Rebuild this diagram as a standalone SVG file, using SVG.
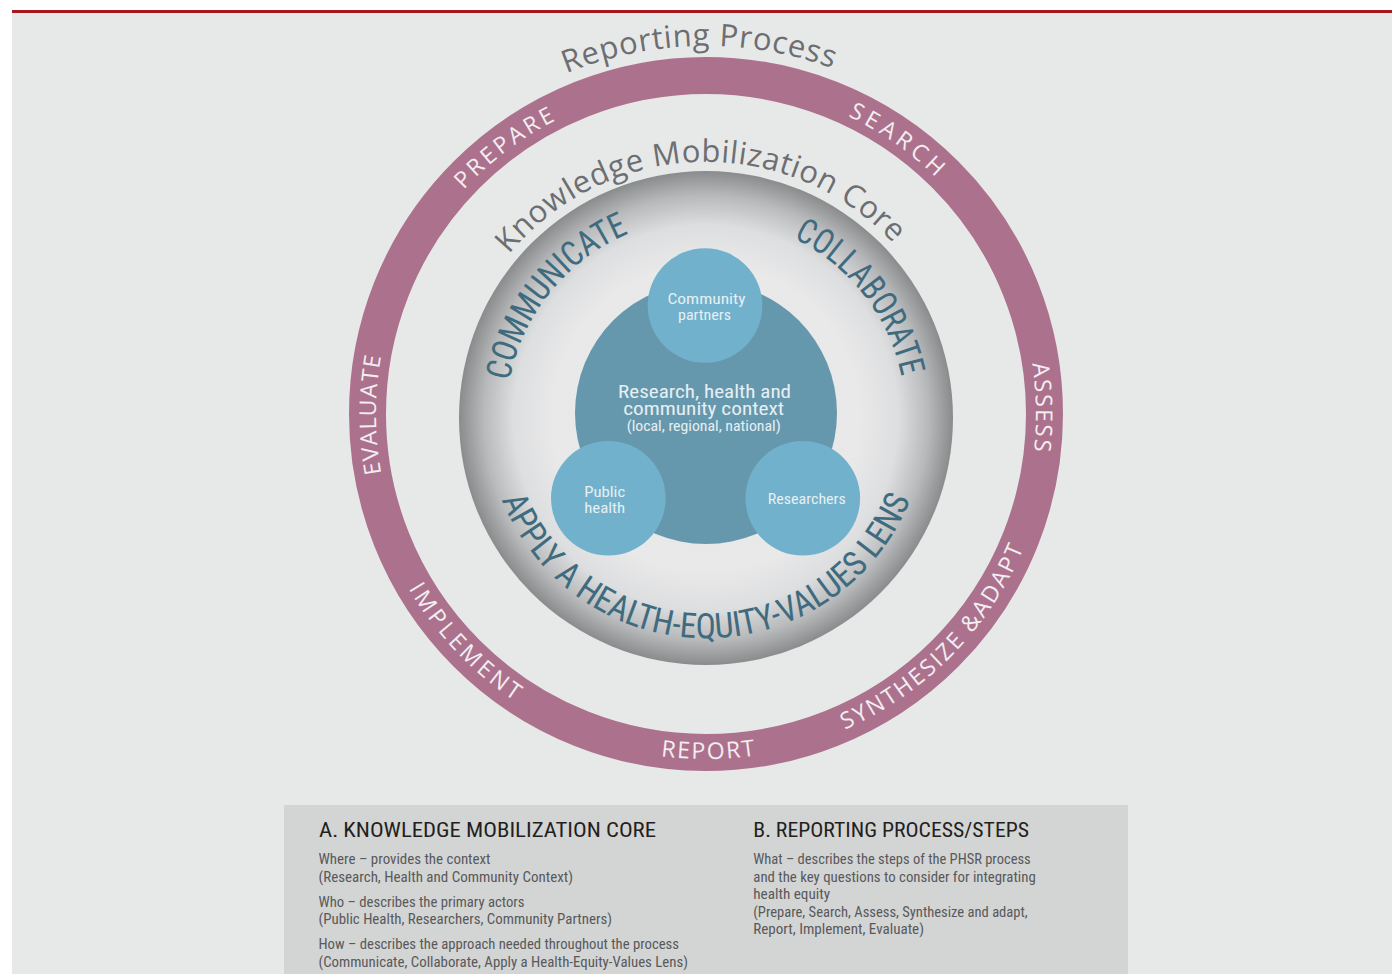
<svg xmlns="http://www.w3.org/2000/svg" width="1392" height="974" viewBox="0 0 1392 974">
  <style>
    .title { font-family: "Open Sans", "Noto Sans", sans-serif; font-size: 31px; fill: #6d6e71; }
    .step { font-family: "Open Sans", "Noto Sans", sans-serif; font-size: 23px; fill: #f3eef1; }
    .how { font-family: "Liberation Sans Narrow", "Roboto Condensed", "DejaVu Sans Condensed", "Liberation Sans", sans-serif; font-size: 35px; fill: #3f6b7e; }
    .inner { font-family: "Liberation Sans Narrow", "Roboto Condensed", "DejaVu Sans Condensed", "Liberation Sans", sans-serif; fill: #e6eff3; text-anchor: middle; }
    .head { font-family: "Liberation Sans Narrow", "Roboto Condensed", "DejaVu Sans Condensed", "Liberation Sans", sans-serif; font-size: 21px; fill: #231f20; }
    .body { font-family: "Liberation Sans Narrow", "Roboto Condensed", "DejaVu Sans Condensed", "Liberation Sans", sans-serif; font-size: 14px; fill: #58595b; }
  </style>
  <defs>
    <radialGradient id="coreShade" cx="706" cy="418" r="247" gradientUnits="userSpaceOnUse">
      <stop offset="0" stop-color="#e6e6e7"/>
      <stop offset="0.62" stop-color="#e9e9ea"/>
      <stop offset="0.78" stop-color="#dddedf"/>
      <stop offset="0.9" stop-color="#b8b9bb"/>
      <stop offset="1" stop-color="#898b8d"/>
    </radialGradient>
    <!-- outer ring, centre (706,414) -->
    <path id="pReporting" d="M338,414 A368,368 0 0 1 1073.78,401.16"/>
    <path id="pPrepare" d="M439.02,607.97 A330,330 0 0 1 966.04,210.83"/>
    <path id="pSearch" d="M439.02,220.03 A330,330 0 0 1 979.58,598.53"/>
    <path id="pAssess" d="M706,84 A330,330 0 0 1 717.52,743.8"/>
    <path id="pEvaluate" d="M700.24,743.95 A330,330 0 0 1 700.24,84.05"/>
    <path id="pSynth" d="M468.52,664.25 A345,345 0 0 0 952.07,172.19"/>
    <path id="pReport" d="M361.12,423.03 A345,345 0 0 0 1050.99,417.01"/>
    <path id="pImplement" d="M464.19,167.93 A345,345 0 0 0 939.08,668.36"/>
    <!-- core disk, centre (706,418) -->
    <path id="pKmc" d="M450.01,420.23 A256,256 0 0 1 961.76,406.83"/>
    <path id="pCommunicate" d="M577.44,571.21 A200,200 0 0 1 829.13,260.4"/>
    <path id="pCollaborate" d="M585.64,258.27 A200,200 0 0 1 831.86,573.43"/>
    <path id="pApply" d="M486.03,421.84 A220,220 0 0 0 925.97,421.84"/>
  </defs>

  <!-- page -->
  <rect x="0" y="0" width="1392" height="974" fill="#ffffff"/>
  <rect x="12" y="13" width="1380" height="961" fill="#e7e9e8"/>
  <rect x="12" y="10" width="1380" height="3" fill="#a3191f"/>

  <!-- reporting process ring -->
  <g id="reporting-ring">
    <circle cx="706" cy="414" r="338.5" fill="none" stroke="#ac728d" stroke-width="37"/>
    <text class="title" letter-spacing="1.5"><textPath href="#pReporting" startOffset="50%" text-anchor="middle" textLength="274">Reporting Process</textPath></text>
    <text class="step" letter-spacing="2"><textPath href="#pPrepare" startOffset="50%" text-anchor="middle" textLength="118">PREPARE</textPath></text>
    <text class="step" letter-spacing="2"><textPath href="#pSearch" startOffset="50%" text-anchor="middle" textLength="110">SEARCH</textPath></text>
    <text class="step" letter-spacing="2"><textPath href="#pAssess" startOffset="50%" text-anchor="middle" textLength="90">ASSESS</textPath></text>
    <text class="step" letter-spacing="1"><textPath href="#pSynth" startOffset="50%" text-anchor="middle" textLength="262">SYNTHESIZE &amp;ADAPT</textPath></text>
    <text class="step" letter-spacing="2"><textPath href="#pReport" startOffset="50%" text-anchor="middle" textLength="97">REPORT</textPath></text>
    <text class="step" letter-spacing="2"><textPath href="#pImplement" startOffset="50%" text-anchor="middle" textLength="158">IMPLEMENT</textPath></text>
    <text class="step" letter-spacing="2"><textPath href="#pEvaluate" startOffset="50%" text-anchor="middle" textLength="120">EVALUATE</textPath></text>
  </g>

  <!-- knowledge mobilization core -->
  <g id="core">
    <circle cx="706" cy="418" r="247" fill="url(#coreShade)"/>
    <text class="title" letter-spacing="1.5"><textPath href="#pKmc" startOffset="50%" text-anchor="middle" textLength="436">Knowledge Mobilization Core</textPath></text>
    <text class="how"><textPath href="#pCommunicate" startOffset="50%" text-anchor="middle" textLength="198" lengthAdjust="spacingAndGlyphs">COMMUNICATE</textPath></text>
    <text class="how"><textPath href="#pCollaborate" startOffset="50%" text-anchor="middle" textLength="182" lengthAdjust="spacingAndGlyphs">COLLABORATE</textPath></text>
    <text class="how"><textPath href="#pApply" startOffset="50%" text-anchor="middle" textLength="524" lengthAdjust="spacingAndGlyphs">APPLY A HEALTH-EQUITY-VALUES LENS</textPath></text>
  </g>

  <g id="context">
    <circle cx="706" cy="413" r="131" fill="#6698ad"/>
    <text class="inner" x="704.6" y="398" font-size="18.5" textLength="173" lengthAdjust="spacingAndGlyphs">Research, health and</text>
    <text class="inner" x="703.7" y="415" font-size="18.5" textLength="161" lengthAdjust="spacingAndGlyphs">community context</text>
    <text class="inner" x="703.7" y="431" font-size="14" textLength="154" lengthAdjust="spacingAndGlyphs">(local, regional, national)</text>
  </g>

  <g id="community-partners">
    <circle cx="705" cy="305.5" r="57.3" fill="#72b1cb"/>
    <text class="inner" x="706.5" y="304" font-size="15.5" textLength="78" lengthAdjust="spacingAndGlyphs">Community</text>
    <text class="inner" x="704.5" y="320" font-size="15.5" textLength="53" lengthAdjust="spacingAndGlyphs">partners</text>
  </g>

  <g id="public-health">
    <circle cx="608.3" cy="498.3" r="57.3" fill="#72b1cb"/>
    <text class="inner" x="604.7" y="496.7" font-size="15.5" textLength="41" lengthAdjust="spacingAndGlyphs">Public</text>
    <text class="inner" x="604.7" y="513.3" font-size="15.5" textLength="41" lengthAdjust="spacingAndGlyphs">health</text>
  </g>

  <g id="researchers">
    <circle cx="802.8" cy="498.3" r="57.3" fill="#72b1cb"/>
    <text class="inner" x="806.8" y="504" font-size="15.5" textLength="78" lengthAdjust="spacingAndGlyphs">Researchers</text>
  </g>

  <!-- key -->
  <g id="legend">
    <rect x="284" y="805" width="844" height="169" fill="#d3d4d4"/>
    <text class="head" x="319" y="836.7" textLength="337" lengthAdjust="spacingAndGlyphs">A. KNOWLEDGE MOBILIZATION CORE</text>
    <text class="body" x="318.5" y="864" textLength="172" lengthAdjust="spacingAndGlyphs">Where – provides the context</text>
    <text class="body" x="318.5" y="881.5" textLength="254.5" lengthAdjust="spacingAndGlyphs">(Research, Health and Community Context)</text>
    <text class="body" x="318.5" y="906.5" textLength="206" lengthAdjust="spacingAndGlyphs">Who – describes the primary actors</text>
    <text class="body" x="318.5" y="924" textLength="293.5" lengthAdjust="spacingAndGlyphs">(Public Health, Researchers, Community Partners)</text>
    <text class="body" x="318.5" y="949" textLength="360.5" lengthAdjust="spacingAndGlyphs">How – describes the approach needed throughout the process</text>
    <text class="body" x="318.5" y="966.5" textLength="369.5" lengthAdjust="spacingAndGlyphs">(Communicate, Collaborate, Apply a Health-Equity-Values Lens)</text>

    <text class="head" x="753.3" y="836.7" textLength="275.7" lengthAdjust="spacingAndGlyphs">B. REPORTING PROCESS/STEPS</text>
    <text class="body" x="753.3" y="864" textLength="277.4" lengthAdjust="spacingAndGlyphs">What – describes the steps of the PHSR process</text>
    <text class="body" x="753.3" y="881.5" textLength="282.4" lengthAdjust="spacingAndGlyphs">and the key questions to consider for integrating</text>
    <text class="body" x="753.3" y="899" textLength="76.7" lengthAdjust="spacingAndGlyphs">health equity</text>
    <text class="body" x="753.3" y="916.5" textLength="274.4" lengthAdjust="spacingAndGlyphs">(Prepare, Search, Assess, Synthesize and adapt,</text>
    <text class="body" x="753.3" y="933.5" textLength="170.7" lengthAdjust="spacingAndGlyphs">Report, Implement, Evaluate)</text>
  </g>
</svg>
